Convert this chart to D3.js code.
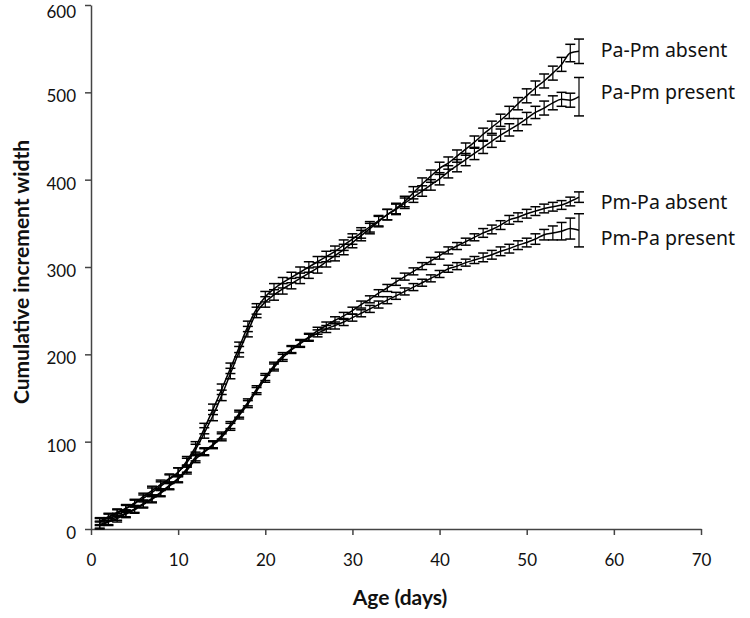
<!DOCTYPE html>
<html><head><meta charset="utf-8">
<script src="https://cdn.jsdelivr.net/npm/d3@7"></script>
<style>body{margin:0;background:#fff}svg{display:block}</style>
</head><body><svg id="c" width="750" height="618"></svg>
<script>
const days = d3.range(1, 57);
const seriesNames = ["Pa-Pm absent", "Pa-Pm present", "Pm-Pa absent", "Pm-Pa present"];
const paPmAbsent = [9,14,19,24,30,37,44,51,58,65,76,91,110,130,153,178,203,226,248,260,268,275,281,287,293,299,306,313,320,328,336,344,352,360,367,375,385,395,404,413,419,427,435,443,452,460,468,477,487,496,505,513,522,532,545,547];
const paPmAbsentErr = [4,4,4,4,4,4,5,5,5,5,5,6,6,6,6,6,6,6,6,6,6,6,6,6,6,6,6,6,6,6,6,6,6,6,6,6,7,7,7,7,7,7,7,7,7,7,7,7,7,8,8,8,8,8,10,14];
const paPmPresent = [8,13,18,23,29,35,42,49,57,65,78,94,115,137,160,184,208,232,252,266,275,282,288,294,300,306,312,318,325,332,339,346,353,360,366,373,380,387,394,401,409,416,423,430,437,444,451,457,463,470,477,482,488,492,491,495];
const paPmPresentErr = [4,4,4,4,4,4,5,5,5,5,5,6,6,6,6,6,6,6,6,6,6,6,6,6,6,6,6,6,6,6,6,6,6,6,6,6,6,6,6,7,7,7,7,7,7,7,7,7,7,7,7,8,8,8,8,22];
const pmPaAbsent = [5,9,14,18,23,29,35,42,50,58,69,82,89,97,107,119,132,145,160,174,187,198,206,213,220,227,233,239,244,250,257,263,270,276,283,289,295,301,307,313,319,324,329,334,339,343,348,354,357,361,364,367,369,371,375,380];
const pmPaAbsentErr = [4,4,4,4,4,4,4,4,4,4,4,4,4,4,4,4,4,4,4,4,4,4,4,4,4,4,4,4,4,4,4,4,4,4,4,4,4,4,4,4,4,4,4,4,5,5,5,5,5,5,5,5,5,5,5,6];
const pmPaPresent = [4,8,12,17,22,28,34,41,49,57,67,80,88,96,105,117,130,143,158,172,185,196,205,212,219,224,229,233,237,242,247,252,257,262,267,272,277,282,287,292,298,301,305,308,311,314,318,321,325,328,332,337,339,341,344,342];
const pmPaPresentErr = [4,4,4,4,4,4,4,4,4,4,4,4,4,4,4,4,4,4,4,4,4,4,4,4,4,4,4,4,4,4,4,4,4,4,4,4,4,4,4,4,4,4,4,4,5,5,5,5,5,5,6,6,8,10,12,19];
const xTicks = [0,10,20,30,40,50,60,70];
const yTicks = [0,100,200,300,400,500,600];
const labelValues = [548, 500, 375, 333];

const series = [
  {name: seriesNames[0], v: paPmAbsent, e: paPmAbsentErr},
  {name: seriesNames[1], v: paPmPresent, e: paPmPresentErr},
  {name: seriesNames[2], v: pmPaAbsent, e: pmPaAbsentErr},
  {name: seriesNames[3], v: pmPaPresent, e: pmPaPresentErr}
];

const svg = d3.select("#c");
const x = d3.scaleLinear().domain([0,70]).range([91,701]);
const y = d3.scaleLinear().domain([0,600]).range([529,5]);
const axisColor = "#444";

const gx = svg.append("g").attr("transform","translate(0,529)")
  .call(d3.axisBottom(x).tickValues(xTicks).tickSize(6).tickSizeOuter(0).tickPadding(19));
const gy = svg.append("g").attr("transform","translate(91,0)")
  .call(d3.axisLeft(y).tickValues(yTicks).tickSize(6).tickSizeOuter(0).tickPadding(9));
[gx, gy].forEach(g => {
  g.selectAll("path.domain").attr("stroke", axisColor).attr("stroke-width", 1.5);
  g.selectAll(".tick line").attr("stroke", axisColor).attr("stroke-width", 1.5);
  g.selectAll("text").attr("font-family","Lato, 'Open Sans', sans-serif").attr("font-size", 17).attr("fill","#111");
});
gy.selectAll("text").attr("dy", d => d === 600 ? "0.72em" : "0.55em");

const plot = svg.append("g");
const line = d3.line().x((d,i)=>x(days[i])).y(d=>y(d)).curve(d3.curveMonotoneX);
series.forEach(s => {
  const g = plot.append("g");
  g.append("path").attr("d", line(s.v)).attr("fill","none").attr("stroke","#000").attr("stroke-width",1.5);
  s.v.forEach((v,i) => {
    const cx = x(days[i]), lo = y(v - s.e[i]), hi = y(v + s.e[i]);
    g.append("line").attr("x1",cx).attr("x2",cx).attr("y1",lo).attr("y2",hi).attr("stroke","#000").attr("stroke-width",1.2);
    g.append("line").attr("x1",cx-5).attr("x2",cx+5).attr("y1",lo).attr("y2",lo).attr("stroke","#000").attr("stroke-width",1.5);
    g.append("line").attr("x1",cx-5).attr("x2",cx+5).attr("y1",hi).attr("y2",hi).attr("stroke","#000").attr("stroke-width",1.5);
  });
});

// series labels
series.forEach((s,i) => {
  svg.append("text").attr("x", x(58.5)).attr("y", y(labelValues[i]) + 7)
    .attr("font-family","'Noto Sans', 'Open Sans', sans-serif").attr("font-size", 19.5).attr("fill","#111")
    .text(s.name);
});

svg.append("text").attr("x", 400).attr("y", 605).attr("text-anchor","middle")
  .attr("font-family","Lato, 'Open Sans', sans-serif").attr("font-weight","bold").attr("font-size",21).attr("fill","#111")
  .text("Age (days)");
svg.append("text").attr("transform","translate(29,272) rotate(-90)").attr("text-anchor","middle")
  .attr("font-family","Lato, 'Open Sans', sans-serif").attr("font-weight","bold").attr("font-size",21).attr("fill","#111")
  .text("Cumulative increment width");
</script></body></html>
